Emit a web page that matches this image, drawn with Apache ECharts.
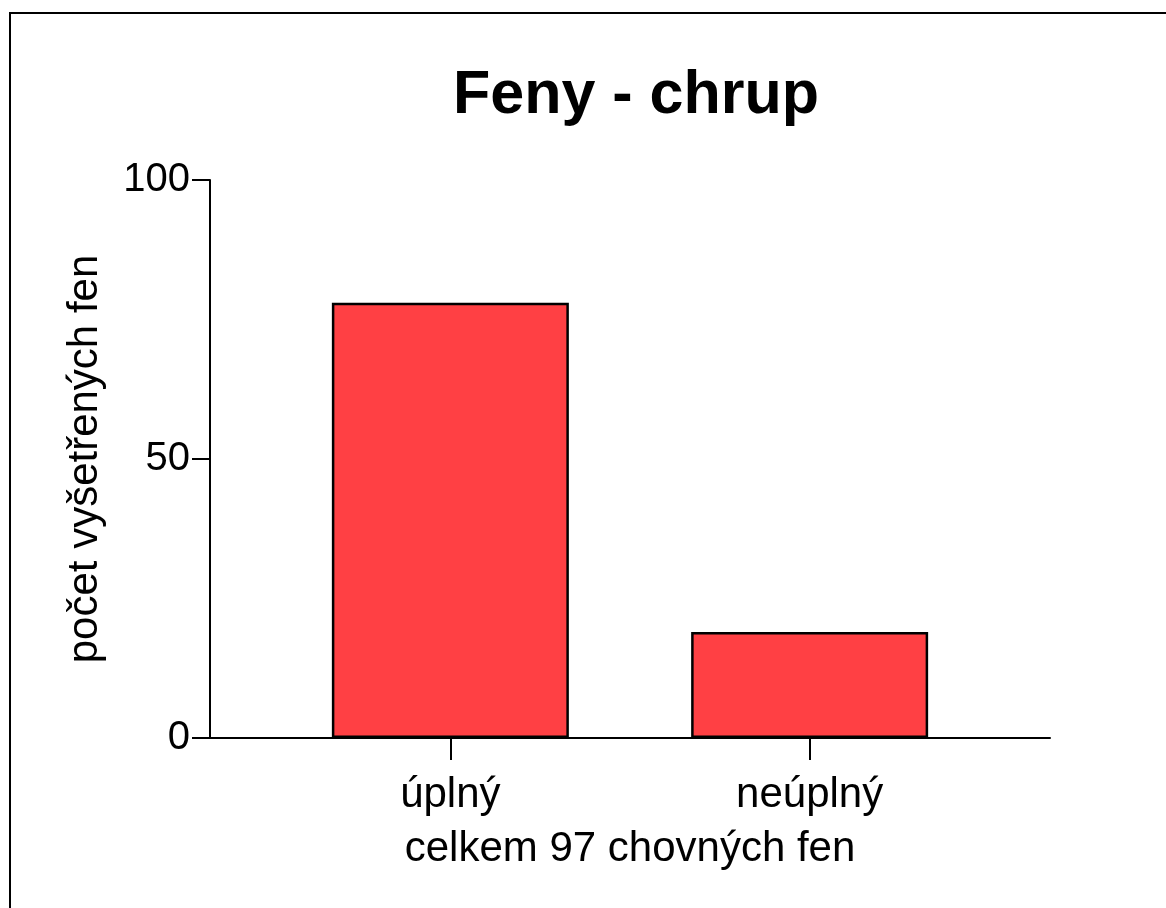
<!DOCTYPE html>
<html>
<head>
<meta charset="utf-8">
<script src="https://cdn.jsdelivr.net/npm/echarts@6/dist/echarts.min.js"></script>
<style>
  html, body { margin: 0; padding: 0; background: #fff; }
  #chart { width: 1166px; height: 908px; }
</style>
</head>
<body>
<div id="chart"></div>
<script>
const categories = ["úplný", "neúplný"];
const counts = [78, 19];
const yTicks = [0, 50, 100];

const font = "'Liberation Sans', Arial, sans-serif";

const chart = echarts.init(document.getElementById("chart"));

const barData = counts.map((v, i) => [i, v]);
const catIndex = categories.map((_, i) => i);

chart.setOption({
  animation: false,
  backgroundColor: "#fff",
  title: {
    text: "Feny - chrup",
    left: 448,
    top: 61,
    textStyle: {
      fontFamily: font,
      fontWeight: "bold",
      fontSize: 61,
      color: "#000",
    },
  },
  graphic: [
    {
      type: "rect",
      shape: { x: 10, y: 13, width: 1180, height: 920 },
      style: { fill: "none", stroke: "#000", lineWidth: 2 },
      silent: true,
    },
  ],
  grid: {
    left: 210,
    right: 116,
    top: 180,
    bottom: 170,
  },
  xAxis: {
    type: "value",
    min: -0.669,
    max: 1.669,
    name: "celkem 97 chovných fen",
    nameLocation: "middle",
    nameGap: 90,
    nameMoveOverlap: false,
    nameTextStyle: { fontFamily: font, fontSize: 42, color: "#000" },
    splitLine: { show: false },
    axisLine: { show: true, onZero: false, lineStyle: { color: "#000", width: 2 } },
    axisTick: {
      show: true,
      length: 22,
      customValues: catIndex,
      lineStyle: { color: "#000", width: 2 },
    },
    axisLabel: {
      customValues: catIndex,
      margin: 36,
      fontFamily: font,
      fontSize: 42,
      color: "#000",
      formatter: (v) => categories[Math.round(v)],
    },
  },
  yAxis: {
    type: "value",
    min: yTicks[0],
    max: yTicks[yTicks.length - 1],
    interval: yTicks[1] - yTicks[0],
    name: "počet vyšetřených fen",
    nameLocation: "middle",
    nameGap: 104,
    nameMoveOverlap: false,
    nameTextStyle: { fontFamily: font, fontSize: 42, color: "#000" },
    splitLine: { show: false },
    axisLine: { show: true, onZero: false, lineStyle: { color: "#000", width: 2 } },
    axisTick: { show: true, length: 18, lineStyle: { color: "#000", width: 2 } },
    axisLabel: {
      margin: 20,
      fontFamily: font,
      fontSize: 40,
      color: "#000",
    },
  },
  series: [
    {
      type: "bar",
      data: barData,
      barWidth: 237,
      itemStyle: {
        color: "#FF4044",
        borderColor: "#000",
        borderWidth: 2.5,
      },
    },
  ],
});
</script>
</body>
</html>
